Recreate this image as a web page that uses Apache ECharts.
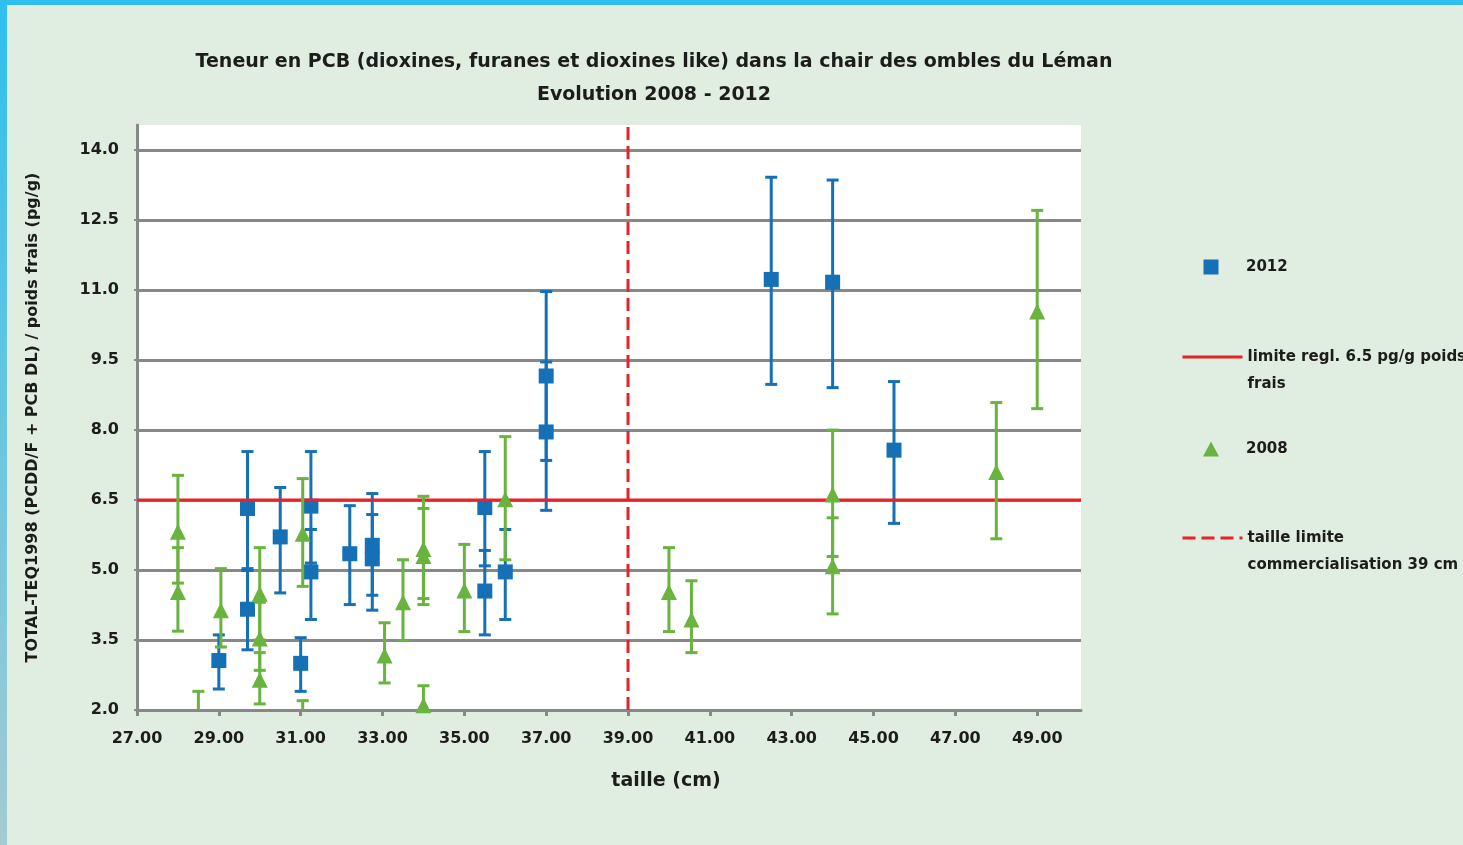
<!DOCTYPE html>
<html><head><meta charset="utf-8">
<script src="https://cdn.jsdelivr.net/npm/echarts@6/dist/echarts.min.js"></script>
<style>html,body{margin:0;padding:0;background:#e0ede1}#c{width:1463px;height:845px}</style>
</head><body><div id="c"></div>
<script>
// ---- data ----
const size2012 = [29.0, 29.7, 29.7, 30.5, 31.0, 31.25, 31.25, 32.2, 32.75, 32.75, 35.5, 35.5, 36.0, 37.0, 37.0, 42.5, 44.0, 45.5];
const teq2012  = [3.06, 6.32, 4.16, 5.71, 3.0, 6.37, 4.96, 5.35, 5.53, 5.24, 6.34, 4.55, 4.96, 9.16, 7.96, 11.23, 11.17, 7.57];
const low2012  = [2.45, 4.99, 3.29, 4.51, 2.4, 5.15, 3.94, 4.26, 4.46, 4.14, 5.09, 3.61, 3.94, 7.35, 6.28, 8.98, 8.91, 6.0];
const high2012 = [3.61, 7.54, 5.03, 6.77, 3.55, 7.54, 5.87, 6.38, 6.64, 6.19, 7.54, 5.42, 5.87, 10.97, 9.46, 13.42, 13.36, 9.04];

const size2008 = [28.0, 28.0, 28.5, 29.05, 30.0, 30.0, 30.0, 31.05, 31.05, 33.05, 33.5, 34.0, 34.0, 34.0, 35.0, 36.0, 40.0, 40.55, 44.0, 44.0, 48.0, 49.0];
const teq2008  = [5.82, 4.53, 1.7, 4.14, 4.49, 3.53, 2.65, 5.78, 1.7, 3.17, 4.31, 5.45, 5.3, 2.1, 4.56, 6.52, 4.53, 3.94, 6.62, 5.08, 7.1, 10.54];
const low2008  = [4.72, 3.69, 1.0, 3.35, 3.5, 2.85, 2.13, 4.65, 1.2, 2.58, 3.49, 4.39, 4.26, 1.7, 3.68, 5.22, 3.68, 3.23, 5.29, 4.06, 5.67, 8.46];
const high2008 = [7.03, 5.48, 2.4, 5.03, 5.48, 4.31, 3.23, 6.96, 2.2, 3.87, 5.22, 6.58, 6.32, 2.52, 5.55, 7.86, 5.48, 4.77, 8.0, 6.12, 8.59, 12.71];

const limitValue = 6.5;
const sizeLimit = 39;
const xTicks = [27, 29, 31, 33, 35, 37, 39, 41, 43, 45, 47, 49];
const yTicks = [2.0, 3.5, 5.0, 6.5, 8.0, 9.5, 11.0, 12.5, 14.0];

const titleLines = ['Teneur en PCB (dioxines, furanes et dioxines like) dans la chair des ombles du Léman', 'Evolution 2008 - 2012'];
const xName = 'taille (cm)';
const yName = 'TOTAL-TEQ1998 (PCDD/F + PCB DL) / poids frais (pg/g)';
const name2012 = '2012';
const name2008 = '2008';
const nameLimit = 'limite regl. 6.5 pg/g poids\nfrais';
const nameSize = 'taille limite\ncommercialisation 39 cm';

// ---- chart ----
const BLUE = '#1570b6', GREEN = '#69b33f', RED = '#e6232a', GRAY = '#888888', TXT = '#1c1c1c';
const FONT = 'DejaVu Sans';
const X_MIN = 27, X_MAX = 50.07, Y_MIN = 2, Y_MAX = 14.54;

function makeErr(color) {
  return function (params, api) {
    const x = api.value(0);
    const p1 = api.coord([x, api.value(1)]);
    const p2 = api.coord([x, api.value(2)]);
    const hw = 6;
    const st = { stroke: color, lineWidth: 3, fill: null };
    return { type: 'group', children: [
      { type: 'line', shape: { x1: p1[0], y1: p1[1], x2: p2[0], y2: p2[1] }, style: st },
      { type: 'line', shape: { x1: p1[0] - hw, y1: p1[1], x2: p1[0] + hw, y2: p1[1] }, style: st },
      { type: 'line', shape: { x1: p2[0] - hw, y1: p2[1], x2: p2[0] + hw, y2: p2[1] }, style: st }
    ]};
  };
}

// legend icons: 60x15 box, marker centred (invisible corner points keep the box)
const ICON_SQUARE = 'path://M0,0L0.01,0ZM22.5,0L37.5,0L37.5,15L22.5,15ZM59.99,15L60,15Z';
const ICON_TRIANGLE = 'path://M0,0L0.01,0ZM30,0L38,15L22,15ZM59.99,15L60,15Z';

const legendText = { fontFamily: FONT, fontWeight: 'bold', fontSize: 15, color: TXT, lineHeight: 27 };
function legendAt(name, top, opts) {
  return Object.assign({
    data: [opts.icon ? { name: name, icon: opts.icon } : { name: name }],
    left: 1181, top: top, padding: 0, itemWidth: 60, itemHeight: 15,
    selectedMode: false, itemGap: 0,
    textStyle: legendText
  }, opts.line ? { itemStyle: { opacity: 0 }, lineStyle: { width: 3 }, formatter: n => '\n' + n } : {});
}

const chart = echarts.init(document.getElementById('c'), null, { renderer: 'canvas' });
chart.setOption({
  backgroundColor: '#e0ede1',
  animation: false,
  title: {
    text: titleLines.join('\n'), left: 654, top: 46, padding: 0, textAlign: 'center',
    textStyle: { fontFamily: FONT, fontWeight: 'bold', fontSize: 19, lineHeight: 33, color: TXT }
  },
  graphic: [
    { type: 'rect', left: 0, top: 0, shape: { width: 1463, height: 5 }, style: { fill: '#2fbfee' }, z: 10 },
    { type: 'rect', left: 0, top: 0, shape: { width: 7, height: 845 }, z: 10,
      style: { fill: new echarts.graphic.LinearGradient(0, 0, 0, 1, [{ offset: 0, color: '#2fbfee' }, { offset: 1, color: '#a3cbd2' }]) } }
  ],
  legend: [
    legendAt(name2012, 253.5, { icon: ICON_SQUARE }),
    legendAt(nameLimit, 316.5, { line: true }),
    legendAt(name2008, 435.5, { icon: ICON_TRIANGLE }),
    legendAt(nameSize, 497.5, { line: true })
  ],
  grid: { left: 137, right: 382, top: 125, bottom: 135, show: true, backgroundColor: '#ffffff', borderWidth: 0 },
  xAxis: {
    type: 'value', min: X_MIN, max: X_MAX,
    name: xName, nameLocation: 'middle', nameGap: 62,
    nameTextStyle: { fontFamily: FONT, fontWeight: 'bold', fontSize: 19, color: TXT, padding: [0, 0, 0, 114] },
    axisLine: { show: true, onZero: false, lineStyle: { color: GRAY, width: 3 } },
    axisTick: { show: true, length: 6, lineStyle: { color: GRAY, width: 3 }, customValues: xTicks },
    axisLabel: { customValues: xTicks, margin: 21, fontFamily: FONT, fontWeight: 'bold', fontSize: 16, color: TXT,
      formatter: v => v.toFixed(2) },
    splitLine: { show: false }
  },
  yAxis: {
    type: 'value', min: Y_MIN, max: Y_MAX,
    name: yName, nameLocation: 'middle', nameGap: 96, nameRotate: 90,
    nameTextStyle: { fontFamily: FONT, fontWeight: 'bold', fontSize: 16, color: TXT },
    axisLine: { show: true, lineStyle: { color: GRAY, width: 3 } },
    axisTick: { show: true, length: 3, lineStyle: { color: GRAY, width: 2 }, customValues: yTicks },
    axisLabel: { customValues: yTicks, margin: 18, fontFamily: FONT, fontWeight: 'bold', fontSize: 16, color: TXT,
      formatter: v => v.toFixed(1) },
    splitLine: { show: true, lineStyle: { color: GRAY, width: 3 } }
  },
  series: [
    { name: 'err2012', type: 'custom', clip: true, renderItem: makeErr(BLUE), encode: { x: 0, y: [1, 2] },
      data: size2012.map((s, i) => [s, low2012[i], high2012[i]]), z: 2 },
    { name: name2012, type: 'scatter', symbol: 'rect', symbolSize: 15, itemStyle: { color: BLUE, opacity: 1 },
      data: size2012.map((s, i) => [s, teq2012[i]]), z: 3 },
    { name: nameLimit, type: 'line', symbol: 'none', lineStyle: { color: RED, width: 3 }, itemStyle: { color: RED },
      data: [[X_MIN, limitValue], [X_MAX, limitValue]], z: 4 },
    { name: 'err2008', type: 'custom', clip: true, renderItem: makeErr(GREEN), encode: { x: 0, y: [1, 2] },
      data: size2008.map((s, i) => [s, low2008[i], high2008[i]]), z: 5 },
    { name: name2008, type: 'scatter', symbol: 'triangle', symbolSize: 16, itemStyle: { color: GREEN, opacity: 1 },
      data: size2008.map((s, i) => [s, teq2008[i]]), z: 6 },
    { name: nameSize, type: 'line', symbol: 'none', lineStyle: { color: RED, width: 3, type: [13, 6] }, itemStyle: { color: RED },
      data: [[sizeLimit, Y_MIN], [sizeLimit, Y_MAX]], z: 7 }
  ]
});
</script></body></html>
